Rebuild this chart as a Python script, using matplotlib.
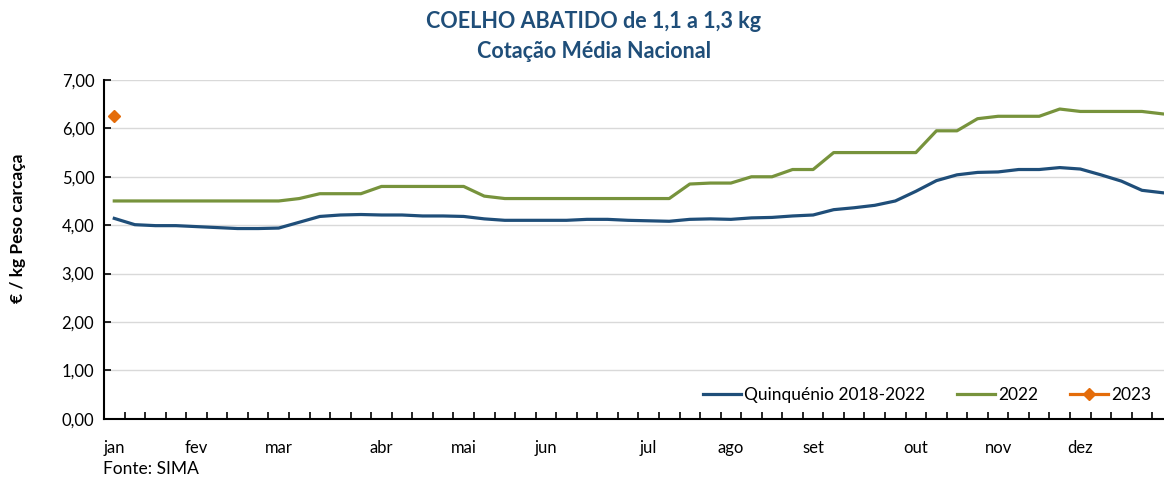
import numpy as np
import matplotlib.pyplot as plt
from matplotlib.ticker import FuncFormatter, FixedLocator

# weekly prices (€/kg), weeks 1..52
weeks = np.arange(1, 53)
quinquenio = [4.14, 4.01, 3.99, 3.99, 3.97, 3.95, 3.93, 3.93, 3.94, 4.06,
              4.18, 4.21, 4.22, 4.21, 4.21, 4.19, 4.19, 4.18, 4.13, 4.10,
              4.10, 4.10, 4.10, 4.12, 4.12, 4.10, 4.09, 4.08, 4.12, 4.13,
              4.12, 4.15, 4.16, 4.19, 4.21, 4.32, 4.36, 4.41, 4.50, 4.70,
              4.92, 5.04, 5.09, 5.10, 5.15, 5.15, 5.19, 5.16, 5.04, 4.91,
              4.72, 4.67]
ano_2022 = [4.50, 4.50, 4.50, 4.50, 4.50, 4.50, 4.50, 4.50, 4.50, 4.55,
            4.65, 4.65, 4.65, 4.80, 4.80, 4.80, 4.80, 4.80, 4.60, 4.55,
            4.55, 4.55, 4.55, 4.55, 4.55, 4.55, 4.55, 4.55, 4.85, 4.87,
            4.87, 5.00, 5.00, 5.15, 5.15, 5.50, 5.50, 5.50, 5.50, 5.50,
            5.95, 5.95, 6.20, 6.25, 6.25, 6.25, 6.40, 6.35, 6.35, 6.35,
            6.35, 6.30]
weeks_2023 = [1]
ano_2023 = [6.25]

month_weeks = [1, 5, 9, 14, 18, 22, 27, 31, 35, 40, 44, 48]
month_labels = ['jan', 'fev', 'mar', 'abr', 'mai', 'jun', 'jul', 'ago', 'set', 'out', 'nov', 'dez']

plt.rcParams['font.family'] = ['Lato', 'DejaVu Sans']

W, H = 1164, 479
fig = plt.figure(figsize=(W / 100, H / 100), dpi=100)
# axes runs a bit past the right edge, like the cropped original
ax = fig.add_axes([104 / W, 60.3 / H, (1172.8 - 104) / W, 338.7 / H])

ax.plot(weeks, quinquenio, color='#1F4E79', lw=2.3, label='Quinquénio 2018-2022')
ax.plot(weeks, ano_2022, color='#77933C', lw=2.3, label='2022')
ax.plot(weeks_2023, ano_2023, color='#E46C0A', lw=2.3, marker='D', ms=6, label='2023')

ax.set_xlim(0.5, 52.5)
ax.set_ylim(0, 7)
ax.set_yticks(np.arange(0, 7.01, 1))
ax.yaxis.set_major_formatter(FuncFormatter(lambda v, p: f'{v:.2f}'.replace('.', ',')))
ax.yaxis.grid(True, color='#D9D9D9', lw=1)
ax.set_axisbelow(True)

ax.set_xticks(month_weeks)
ax.set_xticklabels(month_labels)
ax.xaxis.set_minor_locator(FixedLocator(np.arange(1.5, 53, 1)))
ax.tick_params(axis='x', which='major', length=0, pad=15, labelsize=12, colors='#000000')
ax.tick_params(axis='x', which='minor', direction='in', length=5, width=1.2)
ax.tick_params(axis='y', direction='in', length=5, width=1.2, pad=7, labelsize=12)

for s in ['top', 'right']:
    ax.spines[s].set_visible(False)
for s in ['left', 'bottom']:
    ax.spines[s].set_linewidth(1.5)

ax.set_ylabel('€ / kg Peso carcaça', fontsize=12.5, fontweight='bold')
ax.yaxis.set_label_coords(-78 / (1172.8 - 104), 0.5 + 21 / 338.7)

fig.text(594 / W, 1 - 22 / H, 'COELHO ABATIDO de 1,1 a 1,3 kg', ha='center', va='center',
         fontsize=15.5, fontweight='bold', color='#1F4E79')
fig.text(594 / W, 1 - 52 / H, 'Cotação Média Nacional', ha='center', va='center',
         fontsize=15.5, fontweight='bold', color='#1F4E79')
fig.text(103 / W, 1 - 469 / H, 'Fonte: SIMA', ha='left', va='center', fontsize=12.5)

fig.legend(loc='center right', bbox_to_anchor=(1160 / W, 1 - 395 / H), ncol=3, frameon=False,
           fontsize=12.5, handlelength=2.2, handletextpad=0.2, columnspacing=1.8, borderpad=0)

fig.savefig('out.png', dpi=100)
